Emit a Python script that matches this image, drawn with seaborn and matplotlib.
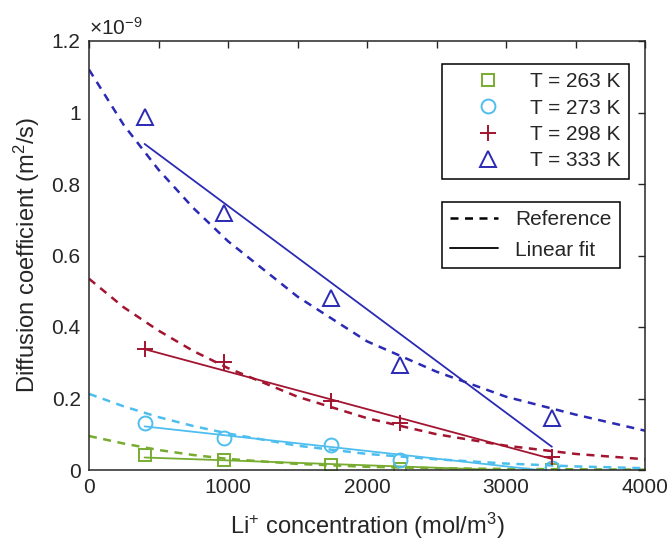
import matplotlib
matplotlib.use("Agg")
import matplotlib.pyplot as plt
from matplotlib.lines import Line2D
from matplotlib.ticker import MultipleLocator, FixedLocator, FuncFormatter
import seaborn as sns
import pandas as pd

# values in units of 1e-9 m^2/s (the x10^-9 factor is written above the axis)
conc = [400, 970, 1740, 2240, 3330]
d_263 = [0.042, 0.028, 0.014, 0.004, 0.0]
d_273 = [0.132, 0.089, 0.070, 0.028, 0.005]
d_298 = [0.338, 0.303, 0.194, 0.131, 0.037]
d_333 = [0.987, 0.720, 0.481, 0.294, 0.145]

# reference curves (dashed)
ref_conc = [0, 250, 500, 750, 1000, 1500, 2000, 2500, 3000, 3500, 4000]
ref_263 = [0.095, 0.074, 0.056, 0.042, 0.031, 0.017, 0.009, 0.005, 0.003, 0.002, 0.001]
ref_273 = [0.213, 0.178, 0.148, 0.123, 0.102, 0.068, 0.045, 0.030, 0.018, 0.010, 0.005]
ref_298 = [0.535, 0.455, 0.390, 0.333, 0.285, 0.205, 0.145, 0.100, 0.068, 0.045, 0.030]
ref_333 = [1.120, 0.965, 0.840, 0.733, 0.640, 0.485, 0.360, 0.275, 0.205, 0.155, 0.110]

# linear fit end points (solid)
fit_conc = [400, 3330]
fit_263 = [0.035, -0.005]
fit_273 = [0.122, -0.004]
fit_298 = [0.338, 0.031]
fit_333 = [0.912, 0.065]

labels = ["T = 263 K", "T = 273 K", "T = 298 K", "T = 333 K"]
colors = ["#77ac30", "#4dbeee", "#a2142f", "#2a2ab4"]
markers = ["s", "o", "+", "^"]
msizes = [9, 10, 12, 11]

sns.set_style("white")
plt.rcParams["font.family"] = ["Liberation Sans", "DejaVu Sans"]
plt.rcParams["mathtext.fontset"] = "custom"
plt.rcParams["mathtext.rm"] = "Liberation Sans"
plt.rcParams["mathtext.it"] = "Liberation Sans:italic"
plt.rcParams["mathtext.default"] = "regular"
ink = "#262626"

fig = plt.figure(figsize=(6.7, 5.45), dpi=100)
ax = fig.add_axes([89 / 670, 1 - 470 / 545, 556 / 670, 429 / 545])

data = [d_263, d_273, d_298, d_333]
refs = [ref_263, ref_273, ref_298, ref_333]
fits = [fit_263, fit_273, fit_298, fit_333]

for d, r, f, c, m, ms in zip(data, refs, fits, colors, markers, msizes):
    df_ref = pd.DataFrame({"x": ref_conc, "y": r})
    sns.lineplot(data=df_ref, x="x", y="y", color=c, lw=1.8, ax=ax,
                 dashes=False, linestyle=(0, (3.2, 2.6)), legend=False)
    df_fit = pd.DataFrame({"x": fit_conc, "y": f})
    sns.lineplot(data=df_fit, x="x", y="y", color=c, lw=1.3, ax=ax, legend=False)
    df_pts = pd.DataFrame({"x": conc, "y": d})
    sns.lineplot(data=df_pts, x="x", y="y", ax=ax, legend=False, linestyle="none",
                 marker=m, markersize=ms, markerfacecolor="none",
                 markeredgecolor=c, markeredgewidth=1.4, color=c)

ax.set_xlim(0, 4000)
ax.set_ylim(0, 1.2)
ax.xaxis.set_major_locator(MultipleLocator(1000))
ax.xaxis.set_minor_locator(FixedLocator([500, 1500, 2500, 3500]))
ax.yaxis.set_major_locator(FixedLocator([0, 0.2, 0.4, 0.6, 0.8, 1.0, 1.2]))
ax.yaxis.set_major_formatter(FuncFormatter(lambda v, p: f"{v:g}"))
ax.tick_params(which="both", direction="in", top=True, right=True,
               length=5, width=1, colors=ink, labelsize=15, pad=6)
for s in ax.spines.values():
    s.set_color(ink)
    s.set_linewidth(1.1)

ax.set_xlabel("Li$^{+}$ concentration (mol/m$^{3}$)", fontsize=17, color=ink, labelpad=10)
ax.set_ylabel("Diffusion coefficient (m$^{2}$/s)", fontsize=17, color=ink, labelpad=7)
ax.text(0.0, 1.004, "\u00d710$^{-9}$", transform=ax.transAxes, fontsize=15,
        color=ink, ha="left", va="bottom")

temp_handles = [Line2D([], [], linestyle="none", marker=m, markersize=ms,
                       markerfacecolor="none", markeredgecolor=c, markeredgewidth=1.4)
                for m, ms, c in zip(markers, msizes, colors)]
leg1 = ax.legend(temp_handles, labels, loc="upper left", bbox_to_anchor=(0.635, 0.946),
                 borderaxespad=0, fontsize=15, frameon=True, fancybox=False,
                 framealpha=1, edgecolor="black", handlelength=3.6,
                 handletextpad=0.2, labelspacing=0.35, borderpad=0.4)
leg1.get_frame().set_linewidth(1.1)
for t in leg1.get_texts():
    t.set_color(ink)
ax.add_artist(leg1)

style_handles = [Line2D([], [], color="black", lw=1.8, linestyle=(0, (3.2, 2.6))),
                 Line2D([], [], color="black", lw=1.3)]
leg2 = ax.legend(style_handles, ["Reference", "Linear fit"], loc="upper left",
                 bbox_to_anchor=(0.635, 0.625), borderaxespad=0, fontsize=15,
                 frameon=True, fancybox=False, framealpha=1, edgecolor="black",
                 handlelength=2.3, handletextpad=0.8, labelspacing=0.55, borderpad=0.4)
leg2.get_frame().set_linewidth(1.1)
for t in leg2.get_texts():
    t.set_color(ink)

fig.savefig("out.png", dpi=100)
